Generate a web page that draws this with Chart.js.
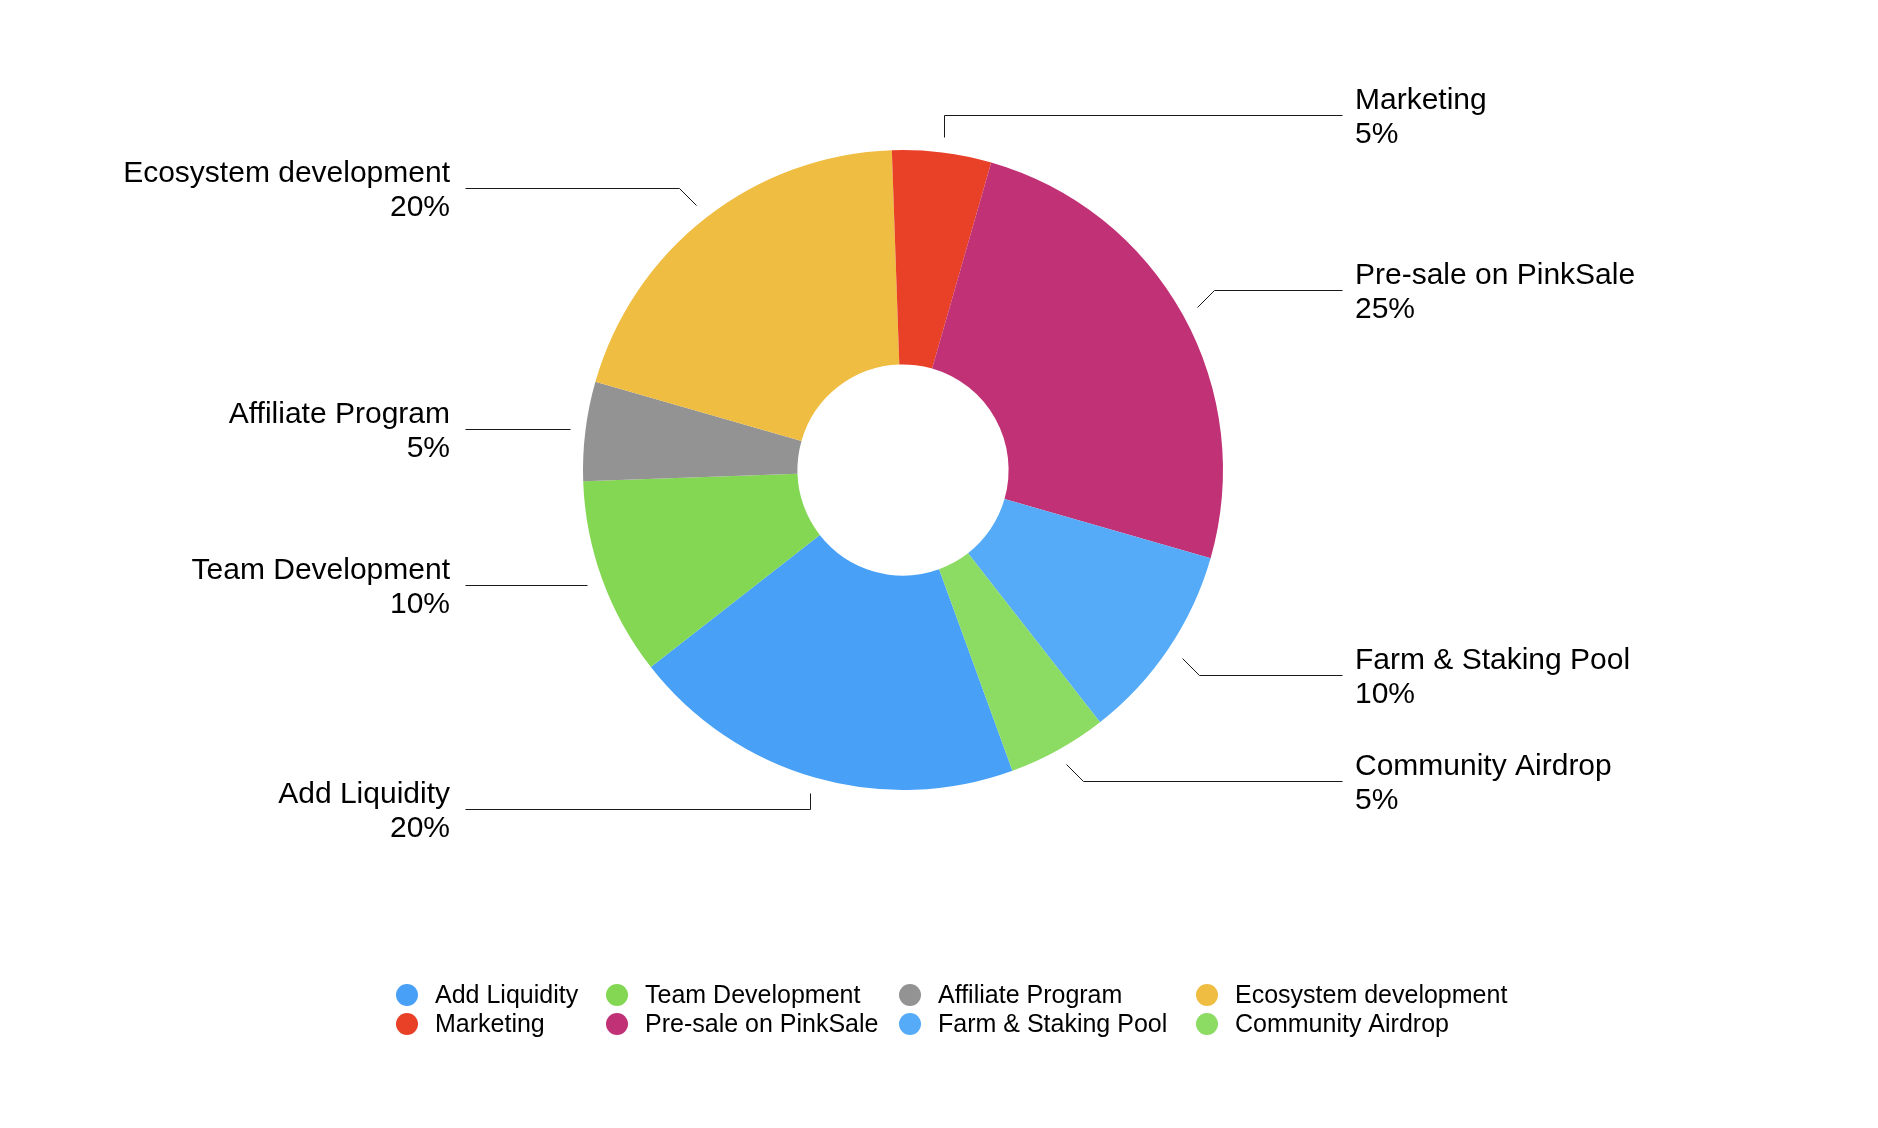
<!DOCTYPE html>
<html>
<head>
<meta charset="utf-8">
<script src="https://cdn.jsdelivr.net/npm/chart.js@4/dist/chart.umd.min.js"></script>
<style>
  html, body { margin: 0; padding: 0; background: #ffffff; }
  #wrap { width: 1878px; height: 1128px; position: relative; }
</style>
</head>
<body>
<div id="wrap"><canvas id="c" width="1878" height="1128"></canvas></div>
<script>
const categories = ["Add Liquidity", "Team Development", "Affiliate Program", "Ecosystem development",
                    "Marketing", "Pre-sale on PinkSale", "Farm & Staking Pool", "Community Airdrop"];
const shares = [20, 10, 5, 20, 5, 25, 10, 5];
const sliceColors = ["#48a0f7", "#83d753", "#939393", "#efbd41", "#e94128", "#c13175", "#55abf8", "#8cdb62"];

const FONT = '"Liberation Sans", Arial, sans-serif';

const calloutPlugin = {
  id: 'callouts',
  afterDraw(chart) {
    const ctx = chart.ctx;
    const meta = chart.getDatasetMeta(0);
    const total = shares.reduce((a, b) => a + b, 0);
    ctx.save();
    ctx.strokeStyle = '#1a1a1a';
    ctx.lineWidth = 1;
    ctx.fillStyle = '#000000';
    ctx.font = '30px ' + FONT;
    ctx.textBaseline = 'middle';
    meta.data.forEach((arc, i) => {
      const p = arc.getProps(['x', 'y', 'startAngle', 'endAngle', 'outerRadius'], true);
      const mid = (p.startAngle + p.endAngle) / 2;
      const c = Math.cos(mid), s = Math.sin(mid);
      const r0 = p.outerRadius + 16;
      const sx = p.x + c * r0, sy = p.y + s * r0;
      const right = c >= 0;
      const angH = Math.atan2(Math.abs(s), Math.abs(c)) * 180 / Math.PI;
      let ex = sx, ey = sy;
      if (angH < 25) { ex = sx; ey = sy; }
      else if (angH > 65) { ex = sx; ey = sy + (s < 0 ? -22 : 16); }
      else { ex = sx + Math.sign(c) * 17; ey = sy + Math.sign(s) * 17; }
      const lineEnd = right ? p.x + p.outerRadius + 119 : p.x - p.outerRadius - 118;
      ctx.beginPath();
      ctx.moveTo(Math.round(sx) + 0.5, Math.round(sy) + 0.5);
      ctx.lineTo(Math.round(ex) + 0.5, Math.round(ey) + 0.5);
      ctx.lineTo(Math.round(lineEnd) + 0.5, Math.round(ey) + 0.5);
      ctx.stroke();
      const tx = right ? lineEnd + 13 : lineEnd - 15;
      ctx.textAlign = right ? 'left' : 'right';
      const pct = Math.round(shares[i] / total * 100) + '%';
      ctx.fillText(categories[i], tx, ey - 14);
      ctx.fillText(pct, tx, ey + 20);
    });
    ctx.restore();
  }
};

const legendPlugin = {
  id: 'gridLegend',
  afterDraw(chart) {
    const ctx = chart.ctx;
    ctx.save();
    ctx.font = '25px ' + FONT;
    ctx.textBaseline = 'middle';
    ctx.textAlign = 'left';
    const cols = 4;
    const colX = [407, 617, 910, 1207];
    const rowY = [995, 1024];
    const dotR = 11, textGap = 28;
    categories.forEach((name, idx) => {
      const col = idx % cols, row = Math.floor(idx / cols);
      const cx = colX[col], cy = rowY[row];
      ctx.fillStyle = sliceColors[idx];
      ctx.beginPath();
      ctx.arc(cx, cy, dotR, 0, Math.PI * 2);
      ctx.fill();
      ctx.fillStyle = '#000000';
      ctx.fillText(name, cx + textGap, cy + 1);
    });
    ctx.restore();
  }
};

new Chart(document.getElementById('c'), {
  type: 'doughnut',
  data: {
    labels: categories,
    datasets: [{
      data: shares,
      backgroundColor: sliceColors,
      borderWidth: 0,
      hoverOffset: 0
    }]
  },
  options: {
    responsive: false,
    animation: false,
    rotation: 160,
    cutout: '33%',
    layout: { padding: { top: 150, bottom: 338, left: 0, right: 72 } },
    plugins: {
      legend: { display: false },
      tooltip: { enabled: false }
    }
  },
  plugins: [calloutPlugin, legendPlugin]
});
</script>
</body>
</html>
